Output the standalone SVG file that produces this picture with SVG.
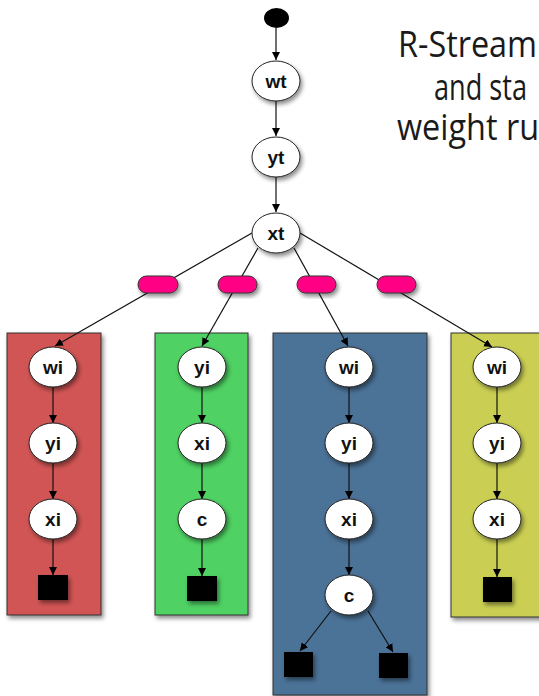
<svg xmlns="http://www.w3.org/2000/svg" width="539" height="696" viewBox="0 0 539 696">
  <defs>
    <filter id="shadow" x="-30%" y="-30%" width="160%" height="160%">
      <feDropShadow dx="2" dy="3" stdDeviation="2" flood-color="#000" flood-opacity="0.45"/>
    </filter>
    <marker id="arrow" markerWidth="8" markerHeight="8" refX="8" refY="4" orient="auto" markerUnits="userSpaceOnUse">
      <path d="M0,0 L8,4 L0,8 Z" fill="#000"/>
    </marker>
    <style>
      .node ellipse { fill: #fff; stroke: #222; stroke-width: 1; filter: url(#shadow); }
      .node text { font-family: "Liberation Sans", Arial, sans-serif; font-weight: bold; font-size: 19px; fill: #111; text-anchor: middle; dominant-baseline: central; }
      .box { stroke: #333; stroke-width: 1; filter: url(#shadow); }
      .sink { fill: #000; filter: url(#shadow); }
      .pill { fill: #ff0585; stroke: #333; stroke-width: 1; filter: url(#shadow); }
      .edge { stroke: #111; stroke-width: 1.2; fill: none; }
      .arr { marker-end: url(#arrow); }
      .title { font-family: "Open Sans", "Liberation Sans", sans-serif; font-size: 37px; fill: #1a1a1a; }
    </style>
  </defs>

  <!-- title (runs past the right edge) -->
  <g id="title">
    <text class="title" x="398" y="57" textLength="139" lengthAdjust="spacingAndGlyphs">R-Stream</text>
    <text class="title" x="434" y="100" textLength="93" lengthAdjust="spacingAndGlyphs">and sta</text>
    <text class="title" x="397" y="140" textLength="142" lengthAdjust="spacingAndGlyphs">weight ru</text>
  </g>

  <!-- partition boxes -->
  <rect id="box-red" class="box" x="7" y="333" width="94" height="282" fill="#d25454"/>
  <rect id="box-green" class="box" x="155" y="333" width="93" height="282" fill="#4fd163"/>
  <rect id="box-blue" class="box" x="273" y="333" width="154" height="362" fill="#4b7297"/>
  <rect id="box-yellow" class="box" x="451" y="333" width="100" height="284" fill="#cacf52"/>

  <!-- connectors -->
  <g id="connectors">
    <line class="edge arr" x1="276" y1="28" x2="276" y2="60"/>
    <line class="edge arr" x1="276" y1="101" x2="276" y2="136"/>
    <line class="edge arr" x1="276" y1="177" x2="276" y2="212"/>

    <line class="edge arr" x1="252" y1="233" x2="55" y2="346"/>
    <line class="edge arr" x1="258" y1="248" x2="202" y2="346"/>
    <line class="edge arr" x1="294" y1="248" x2="348" y2="346"/>
    <line class="edge arr" x1="300" y1="233" x2="492" y2="347"/>

    <line class="edge arr" x1="53" y1="387" x2="53" y2="423"/>
    <line class="edge arr" x1="53" y1="463" x2="53" y2="499"/>
    <line class="edge arr" x1="53" y1="539" x2="53" y2="575"/>

    <line class="edge arr" x1="202" y1="387" x2="202" y2="423"/>
    <line class="edge arr" x1="202" y1="463" x2="202" y2="499"/>
    <line class="edge arr" x1="202" y1="539" x2="202" y2="576"/>

    <line class="edge arr" x1="349" y1="387" x2="349" y2="423"/>
    <line class="edge arr" x1="349" y1="463" x2="349" y2="499"/>
    <line class="edge arr" x1="349" y1="539" x2="349" y2="575"/>
    <line class="edge arr" x1="331" y1="611" x2="300" y2="651"/>
    <line class="edge arr" x1="368" y1="611" x2="393" y2="652"/>

    <line class="edge arr" x1="497" y1="387" x2="497" y2="423"/>
    <line class="edge arr" x1="497" y1="463" x2="497" y2="499"/>
    <line class="edge arr" x1="497" y1="539" x2="497" y2="577"/>
  </g>

  <!-- edge labels -->
  <g id="labels">
    <rect class="pill" x="138" y="276" width="40" height="17" rx="8.5"/>
    <rect class="pill" x="218" y="276" width="39" height="17" rx="8.5"/>
    <rect class="pill" x="297" y="276" width="39" height="17" rx="8.5"/>
    <rect class="pill" x="377" y="276" width="39" height="17" rx="8.5"/>
  </g>

  <!-- start -->
  <g id="start"><ellipse cx="276.5" cy="18" rx="12.5" ry="10" fill="#000"/></g>

  <!-- top chain -->
  <g id="wt" class="node"><ellipse cx="276" cy="81" rx="24" ry="20"/><text x="276" y="81">wt</text></g>
  <g id="yt" class="node"><ellipse cx="276" cy="157" rx="24" ry="20"/><text x="276" y="157">yt</text></g>
  <g id="xt" class="node"><ellipse cx="276" cy="233" rx="24" ry="20"/><text x="276" y="233">xt</text></g>

  <!-- red partition -->
  <g id="red-wi" class="node"><ellipse cx="53" cy="367" rx="24" ry="20"/><text x="53" y="367">wi</text></g>
  <g id="red-yi" class="node"><ellipse cx="53" cy="443" rx="24" ry="20"/><text x="53" y="443">yi</text></g>
  <g id="red-xi" class="node"><ellipse cx="53" cy="519" rx="24" ry="20"/><text x="53" y="519">xi</text></g>
  <g id="red-out"><rect class="sink" x="38" y="575" width="30" height="25"/></g>

  <!-- green partition -->
  <g id="green-yi" class="node"><ellipse cx="202" cy="367" rx="24" ry="20"/><text x="202" y="367">yi</text></g>
  <g id="green-xi" class="node"><ellipse cx="202" cy="443" rx="24" ry="20"/><text x="202" y="443">xi</text></g>
  <g id="green-c" class="node"><ellipse cx="202" cy="519" rx="24" ry="20"/><text x="202" y="519">c</text></g>
  <g id="green-out"><rect class="sink" x="187" y="576" width="30" height="25"/></g>

  <!-- blue partition -->
  <g id="blue-wi" class="node"><ellipse cx="349" cy="367" rx="24" ry="20"/><text x="349" y="367">wi</text></g>
  <g id="blue-yi" class="node"><ellipse cx="349" cy="443" rx="24" ry="20"/><text x="349" y="443">yi</text></g>
  <g id="blue-xi" class="node"><ellipse cx="349" cy="519" rx="24" ry="20"/><text x="349" y="519">xi</text></g>
  <g id="blue-c" class="node"><ellipse cx="349" cy="595" rx="24" ry="20"/><text x="349" y="595">c</text></g>
  <g id="blue-out-left"><rect class="sink" x="284" y="652" width="29" height="25"/></g>
  <g id="blue-out-right"><rect class="sink" x="379" y="653" width="29" height="25"/></g>

  <!-- yellow partition -->
  <g id="yellow-wi" class="node"><ellipse cx="497" cy="367" rx="24" ry="20"/><text x="497" y="367">wi</text></g>
  <g id="yellow-yi" class="node"><ellipse cx="497" cy="443" rx="24" ry="20"/><text x="497" y="443">yi</text></g>
  <g id="yellow-xi" class="node"><ellipse cx="497" cy="519" rx="24" ry="20"/><text x="497" y="519">xi</text></g>
  <g id="yellow-out"><rect class="sink" x="483" y="577" width="29" height="25"/></g>
</svg>
